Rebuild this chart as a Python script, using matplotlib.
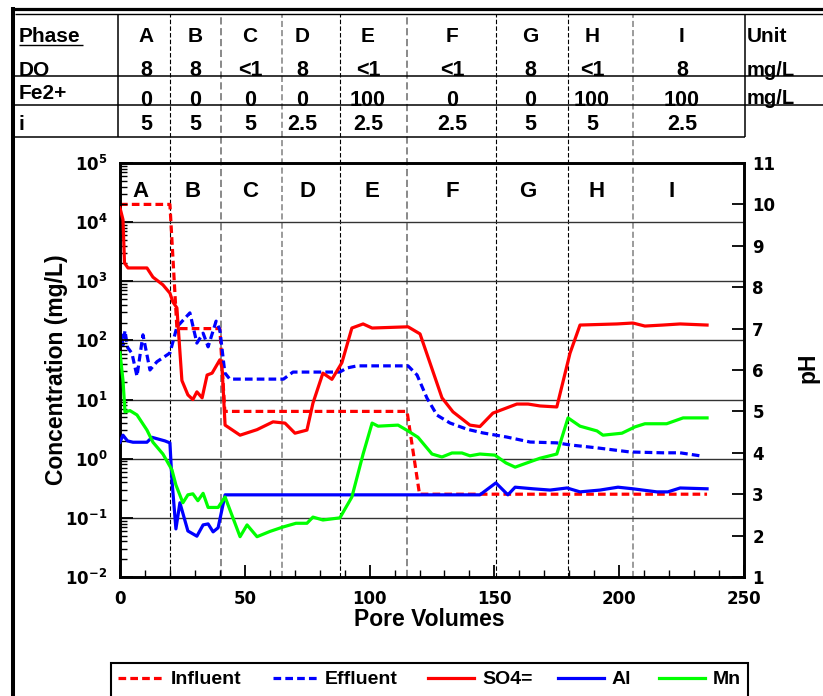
import numpy as np
import matplotlib
matplotlib.use('Agg')
import matplotlib.pyplot as plt
from matplotlib.lines import Line2D
from matplotlib.patches import Rectangle
from matplotlib.ticker import LogLocator, MultipleLocator, FixedLocator, FuncFormatter, NullFormatter
import matplotlib.transforms as mtransforms

plt.rcParams['font.family'] = ['Liberation Sans', 'DejaVu Sans']
plt.rcParams['font.weight'] = 'bold'
plt.rcParams['mathtext.fontset'] = 'dejavusans'

# ---------------- data ----------------
phases = ['A', 'B', 'C', 'D', 'E', 'F', 'G', 'H', 'I']
phase_bounds = [20, 40.5, 65, 88, 115, 150.5, 179.5, 205.5]
do_vals = ['8', '8', '<1', '8', '<1', '<1', '8', '<1', '8']
fe_vals = ['0', '0', '0', '0', '100', '0', '0', '100', '100']
i_vals = ['5', '5', '5', '2.5', '2.5', '2.5', '5', '5', '2.5']
row_labels = ['Phase', 'DO', 'Fe2+', 'i']
units = ['Unit', 'mg/L', 'mg/L', '']

so4_pv = [0, 1.2, 1.8, 3.2, 10.8, 13.2, 17.2, 20, 21.2, 22.8, 23.4, 24.8, 27.2, 29.2, 30.8,
          32.9, 34.9, 36.9, 40.0, 40.9, 42.1, 48.1, 54.9, 61.3, 66.1, 70.1, 74.9, 77.3, 81.3,
          84.9, 88.9, 92.9, 97.4, 101, 115.4, 120.2, 129, 133.4, 140.2, 144.2, 149.4, 159,
          163.5, 168.3, 175, 180.3, 184.3, 199.1, 205.5, 210.3, 217.5, 224.4, 235.2]
so4_mgL = [17400, 11000, 2040, 1680, 1680, 1175, 870, 630, 447, 355, 151, 21, 12, 10, 13.5,
           10.7, 26, 28, 47, 34, 3.7, 2.5, 3.1, 4.2, 4.0, 2.7, 3.05, 8.7, 28,
           22, 42, 162, 190, 162, 170, 129, 10.7, 6.2, 3.7, 3.5, 5.9, 8.4,
           8.4, 7.8, 7.5, 61, 182, 190, 197, 175, 182, 190, 182]

al_pv = [0, 1.2, 3.0, 5.2, 10.8, 12.8, 18, 20, 20.8, 22.4, 24, 27.2, 30.8, 33.3, 35.3, 37.3,
         39.3, 42.1, 144.2, 150.6, 155.4, 158.3, 165.5, 172.3, 179.1, 184.3, 192.3, 199.5,
         205.5, 215.1, 219.5, 224.4, 235.2]
al_mgL = [1.9, 2.5, 2.0, 1.9, 1.9, 2.3, 2.0, 1.85, 0.44, 0.065, 0.18, 0.06, 0.049, 0.076, 0.079,
          0.058, 0.068, 0.245, 0.245, 0.39, 0.245, 0.33, 0.31, 0.295, 0.32, 0.275, 0.295, 0.33,
          0.31, 0.275, 0.275, 0.32, 0.31]

mn_pv = [0, 1.2, 2.0, 4.0, 6.8, 10.8, 13.2, 17.2, 20.8, 22.4, 25.2, 27.2, 29.2, 31.2, 33.3,
         35.3, 39.3, 42.1, 48.1, 50.9, 54.9, 60.1, 65.3, 70.5, 74.9, 77.3, 81.3, 88.1, 92.9,
         97.4, 101, 103.4, 111.4, 115.4, 119.4, 125, 129, 133, 137, 140.2, 144.2, 150.2,
         154.6, 158.3, 168.3, 175, 179.5, 184.3, 191.1, 193.5, 201.1, 206.3, 210.3, 219,
         225.6, 235.2]
mn_mgL = [62, 21, 6.2, 6.5, 5.5, 3.05, 1.9, 1.2, 0.65, 0.36, 0.18, 0.245, 0.255, 0.195, 0.26,
          0.15, 0.15, 0.225, 0.048, 0.076, 0.048, 0.059, 0.07, 0.081, 0.081, 0.103, 0.092, 0.1, 0.225,
          1.2, 4.0, 3.55, 3.7, 2.95, 2.3, 1.2, 1.07, 1.25, 1.25, 1.12, 1.2, 1.15,
          0.85, 0.72, 1.02, 1.2, 4.9, 3.55, 2.95, 2.5, 2.7, 3.45, 3.9, 3.9,
          4.9, 4.9]

inf_pv = [0, 20, 22.8, 40, 42, 115, 120, 235.2]
inf_pH = [10, 10, 7, 7, 5, 5, 3, 3]

eff_pv = [0, 0.6, 1.2, 2.0, 3.0, 4.8, 6.8, 9.2, 12, 14.8, 20, 22.8, 28, 30.8, 33.3, 35.3, 38.5,
          40, 42, 44, 65.5, 69.3, 88, 91, 95, 115.4, 119, 123, 127, 132.2, 139, 145.4, 155,
          164.3, 175, 180.3, 191, 204.3, 217.5, 224.4, 233.2]
eff_pH = [6.4, 6.85, 6.6, 6.95, 6.55, 6.4, 5.85, 6.85, 6.0, 6.2, 6.41, 7.04, 7.38, 6.65, 6.89,
          6.56, 7.18, 6.97, 5.93, 5.78, 5.78, 5.95, 5.95, 6.05, 6.1, 6.1, 5.88, 5.32, 4.91, 4.72,
          4.57, 4.48, 4.38, 4.26, 4.24, 4.19, 4.12, 4.02, 4.0, 4.0, 3.92]

# ---------------- layout ----------------
W, H = 823, 696
fig = plt.figure(figsize=(W / 100, H / 100), dpi=100)
fig.patch.set_facecolor('white')


def fx(x):
    return x / W


def fy(y):
    return 1 - y / H


AX_L, AX_R, AX_T, AX_B = 120, 744, 163, 577
ax = fig.add_axes([fx(AX_L), fy(AX_B), (AX_R - AX_L) / W, (AX_B - AX_T) / H])
ax2 = ax.twinx()
ax.set_zorder(ax2.get_zorder() + 1)
ax.patch.set_visible(False)
ax2.patch.set_visible(False)

RED, BLUE, GREEN = '#ff0000', '#0000ff', '#00ff00'
LW = 2.3
DASH = (2.4, 1.3)

# concentration axis (log)
ax.set_yscale('log')
ax.set_ylim(1e-2, 1e5)
ax.set_xlim(0, 250)
ax.plot(so4_pv, so4_mgL, color=RED, lw=LW, zorder=3)
ax.plot(al_pv, al_mgL, color=BLUE, lw=LW, zorder=3)
ax.plot(mn_pv, mn_mgL, color=GREEN, lw=LW, zorder=3)

# pH axis
ax2.set_ylim(1, 11)
# gridlines at concentration decades (drawn on pH axes so they sit beneath all curves)
for dec in range(-1, 5):
    ph_equiv = 1 + (dec + 2) * 10 / 7
    ax2.axhline(ph_equiv, color='#333333', lw=1.0, zorder=0.5)
ax2.plot(inf_pv, inf_pH, color=RED, lw=LW, dashes=DASH, zorder=2)
ax2.plot(eff_pv, eff_pH, color=BLUE, lw=LW, dashes=DASH, zorder=2)

# ticks
ax.yaxis.set_major_locator(LogLocator(base=10, numticks=20))
ax.yaxis.set_minor_locator(LogLocator(base=10, subs=np.arange(2, 10), numticks=100))
ax.yaxis.set_major_formatter(FuncFormatter(lambda v, _: r'$\mathbf{10^{%d}}$' % round(np.log10(v))))
ax.yaxis.set_minor_formatter(NullFormatter())
ax.xaxis.set_major_locator(MultipleLocator(50))
ax.xaxis.set_minor_locator(MultipleLocator(10))
ax.tick_params(axis='both', which='major', direction='in', length=9, width=1.3,
               labelsize=12, labelfontfamily='DejaVu Sans')
ax.tick_params(axis='both', which='minor', direction='in', length=5, width=1.0)
ax.tick_params(axis='y', pad=9)
ax.tick_params(axis='x', pad=9)
ax.tick_params(axis='y', which='both', right=False)
ax.tick_params(axis='x', which='both', top=False)

ax2.yaxis.set_major_locator(FixedLocator(list(range(1, 12))))
ax2.tick_params(axis='y', which='major', direction='in', length=9, width=1.3,
                labelsize=12, labelfontfamily='DejaVu Sans', pad=6)
ax2.tick_params(axis='y', which='minor', right=False)

for a in (ax, ax2):
    for s in a.spines.values():
        s.set_linewidth(1.9)
        s.set_color('black')

# axis titles
fig.text(fx(56), fy(370), 'Concentration (mg/L)', rotation=90, ha='center', va='center',
         fontsize=16.5, fontweight='bold')
fig.text(fx(429), fy(626), 'Pore Volumes', ha='center', va='baseline',
         fontsize=16.5, fontweight='bold')
fig.text(fx(808), fy(368), 'pH', rotation=90, ha='center', va='center',
         fontsize=16.5, fontweight='bold')

# phase letters inside plot
letter_x = [8.4, 29.2, 52.1, 75.3, 101, 133, 163.5, 191.1, 221.1]
for lx, p in zip(letter_x, phases):
    ax.text(lx, 0.93, p, transform=ax.get_xaxis_transform(), ha='center', va='center',
            fontsize=16, fontweight='bold')

# phase boundary dashed lines (plot + table)
trans = mtransforms.blended_transform_factory(ax.transData, fig.transFigure)
bound_colors = ['#000000', '#808080', '#808080', '#000000', '#808080', '#000000', '#000000', '#808080']
bound_lw = [0.8, 1.3, 1.1, 0.8, 1.3, 0.8, 0.8, 1.1]
for b, c, lw in zip(phase_bounds, bound_colors, bound_lw):
    fig.add_artist(Line2D([b, b], [fy(AX_B), fy(14)], transform=trans, color=c, lw=lw,
                          ls=(0, (4, 2)), zorder=-1))

# ---------------- table ----------------
def hline(y, x0, x1, lw):
    fig.add_artist(Line2D([fx(x0), fx(x1)], [fy(y), fy(y)], transform=fig.transFigure,
                          color='black', lw=lw, solid_capstyle='butt'))


def vline(x, y0, y1, lw):
    fig.add_artist(Line2D([fx(x), fx(x)], [fy(y0), fy(y1)], transform=fig.transFigure,
                          color='black', lw=lw, solid_capstyle='butt'))


hline(8.5, 11, 823, 2.3)
hline(13.5, 15, 823, 1.0)
vline(13, 7, 696, 2.9)
hline(76, 13, 823, 1.1)
hline(105, 13, 823, 1.1)
hline(137, 13, 745, 1.1)
hline(44.5, 19, 83, 1.0)
vline(118.5, 14, 137, 1.1)
vline(745, 14, 137, 1.1)

col_px = [146, 195, 250, 302, 368, 452, 530, 592, 682]
row_base = [42.5, 76.5, 105.5, 130]
label_base = [42.5, 76.5, 99, 130]
rows = [phases, do_vals, fe_vals, i_vals]
for r, (lab, vals) in enumerate(zip(row_labels, rows)):
    fig.text(fx(19), fy(label_base[r]), lab, ha='left', va='baseline', fontsize=15,
             fontweight='bold')
    for cx, v in zip(col_px, vals):
        fig.text(fx(cx), fy(row_base[r]), v, ha='center', va='baseline',
                 fontsize=15 if r == 0 else 15.5, fontweight='bold')
    if units[r]:
        fig.text(fx(747), fy(row_base[r] - 1), units[r], ha='left', va='baseline',
                 fontsize=15 if r == 0 else 14.5, fontweight='bold')

# ---------------- legend ----------------
fig.add_artist(Rectangle((fx(111), fy(730)), (748 - 111) / W, (730 - 663) / H,
                         transform=fig.transFigure, fill=False, ec='black', lw=1.5))
leg_items = [('Influent', RED, True, 118, 165, 171), ('Effluent', BLUE, True, 273, 319, 325),
             ('SO4=', RED, False, 428, 474, 482), ('Al', BLUE, False, 558, 604, 612),
             ('Mn', GREEN, False, 659, 705, 713)]
for name, col, dashed, x0, x1, tx in leg_items:
    kw = dict(dashes=DASH) if dashed else {}
    fig.add_artist(Line2D([fx(x0), fx(x1)], [fy(678), fy(678)], transform=fig.transFigure,
                          color=col, lw=LW, **kw))
    fig.text(fx(tx), fy(684), name, ha='left', va='baseline', fontsize=14, fontweight='bold')

fig.savefig('out.png', dpi=100)
